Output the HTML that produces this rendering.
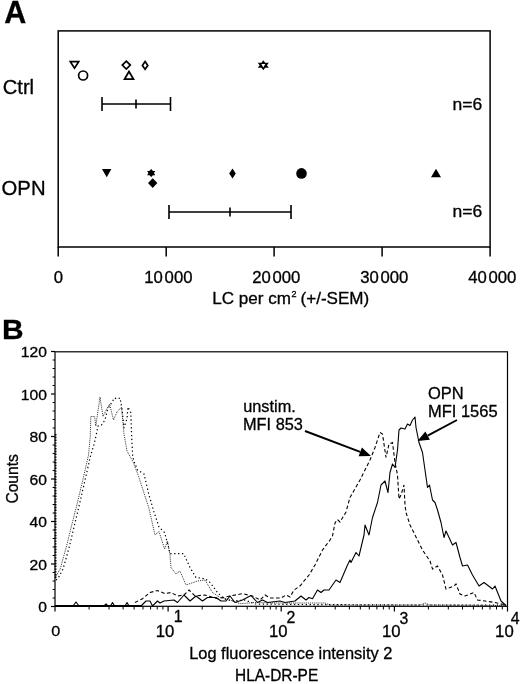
<!DOCTYPE html>
<html><head><meta charset="utf-8"><title>Figure</title>
<style>html,body{margin:0;padding:0;background:#fff}svg{display:block}text{font-family:"Liberation Sans",sans-serif;fill:#000;stroke:#000;stroke-width:0.3px}</style>
</head><body>
<svg width="520" height="684" viewBox="0 0 520 684">
<rect width="520" height="684" fill="#fff"/>
<text transform="translate(4.2 23) scale(1.0 1)" font-size="30.5" text-anchor="start" font-weight="bold">A</text>
<rect x="58.2" y="30.9" width="431.90000000000003" height="216.1" fill="none" stroke="#000" stroke-width="1.5"/>
<line x1="58.2" y1="247.0" x2="58.2" y2="256.4" stroke="#000" stroke-width="1.5"/>
<line x1="166.2" y1="247.0" x2="166.2" y2="256.4" stroke="#000" stroke-width="1.5"/>
<line x1="274.1" y1="247.0" x2="274.1" y2="256.4" stroke="#000" stroke-width="1.5"/>
<line x1="382.1" y1="247.0" x2="382.1" y2="256.4" stroke="#000" stroke-width="1.5"/>
<line x1="490.1" y1="247.0" x2="490.1" y2="256.4" stroke="#000" stroke-width="1.5"/>
<text transform="translate(58.5 282.8) scale(1.045 1)" font-size="16" text-anchor="middle" >0</text>
<text transform="translate(168.4 282.8) scale(1.045 1)" font-size="16" text-anchor="middle" >10<tspan dx="1.6">000</tspan></text>
<text transform="translate(276.3 282.8) scale(1.045 1)" font-size="16" text-anchor="middle" >20<tspan dx="1.6">000</tspan></text>
<text transform="translate(384.3 282.8) scale(1.045 1)" font-size="16" text-anchor="middle" >30<tspan dx="1.6">000</tspan></text>
<text transform="translate(492.3 282.8) scale(1.045 1)" font-size="16" text-anchor="middle" >40<tspan dx="1.6">000</tspan></text>
<text transform="translate(212.2 303.5) scale(1.067 1)" font-size="16" text-anchor="start" >LC per cm<tspan font-size="8.5" dy="-7" dx="0.5">2</tspan><tspan dy="7" dx="-0.6"> (+/-SEM)</tspan></text>
<text transform="translate(2.7 93.9) scale(1.01 1)" font-size="20" text-anchor="start" >Ctrl</text>
<text transform="translate(1.6 195.1) scale(0.975 1)" font-size="20.8" text-anchor="start" >OPN</text>
<text transform="translate(452.6 110.2) scale(1.06 1)" font-size="16.5" text-anchor="start" >n=6</text>
<text transform="translate(452.6 217) scale(1.06 1)" font-size="16.5" text-anchor="start" >n=6</text>
<path d="M102 104H170.5M102 97V111M170.5 97V111M136 99.5V108.5" stroke="#000" stroke-width="1.6" fill="none"/>
<path d="M169 212H291M169 205V219M291 205V219M230 207.5V216.5" stroke="#000" stroke-width="1.6" fill="none"/>
<path d="M70.3 61.7H78.7L74.5 68.2Z" stroke="#000" stroke-width="1.7" fill="#fff" stroke-linejoin="miter"/>
<circle cx="83.1" cy="75.5" r="4.5" stroke="#000" stroke-width="1.7" fill="#fff" stroke-linejoin="miter"/>
<path d="M126.3 61.1L130.3 65.1L126.3 69.1L122.3 65.1Z" stroke="#000" stroke-width="1.7" fill="#fff" stroke-linejoin="miter"/>
<path d="M129 71.5L133.5 79.2H124.5Z" stroke="#000" stroke-width="1.7" fill="#fff" stroke-linejoin="miter"/>
<path d="M145.1 61.5L147.8 65.4L145.1 69.3L142.4 65.4Z" stroke="#000" stroke-width="1.7" fill="#fff" stroke-linejoin="miter"/>
<path d="M263.3 60.2L268.8 67.7H257.8Z M263.3 70.2L257.8 62.7H268.8Z" fill="#000"/>
<path d="M261.3 63.9H265.3L263.3 67.5Z" fill="#fff"/>
<path d="M102 169H111.4L106.7 177.2Z" fill="#000"/>
<path d="M151.2 168.8L155.3 175.2H147.1Z M151.2 177.3L147.1 170.9H155.3Z" fill="#000"/>
<circle cx="151.2" cy="173.05" r="2.7" fill="#000"/>
<path d="M152.7 178.2L157.4 183.1L152.7 188L148 183.1Z" fill="#000"/>
<path d="M232.5 168.6L235.8 173.5L232.5 178.4L229.2 173.5Z" fill="#000"/>
<circle cx="301.5" cy="173.4" r="5.3" fill="#000"/>
<path d="M436 168.7L441 177.3H431Z" fill="#000"/>
<text transform="translate(2.0 338.5) scale(1.05 1)" font-size="28.5" text-anchor="start" font-weight="bold">B</text>
<rect x="55.0" y="351.8" width="452.5" height="254.49999999999994" fill="none" stroke="#000" stroke-width="1.2"/>
<line x1="51" y1="606.5" x2="55.0" y2="606.5" stroke="#000" stroke-width="1.2"/>
<text transform="translate(47.0 612.4) scale(1.045 1)" font-size="15" text-anchor="end" >0</text>
<line x1="52.6" y1="598.0" x2="55.0" y2="598.0" stroke="#000" stroke-width="1"/>
<line x1="52.6" y1="589.5" x2="55.0" y2="589.5" stroke="#000" stroke-width="1"/>
<line x1="52.6" y1="581.0" x2="55.0" y2="581.0" stroke="#000" stroke-width="1"/>
<line x1="52.6" y1="572.5" x2="55.0" y2="572.5" stroke="#000" stroke-width="1"/>
<line x1="51" y1="564.0" x2="55.0" y2="564.0" stroke="#000" stroke-width="1.2"/>
<text transform="translate(47.0 569.9) scale(1.045 1)" font-size="15" text-anchor="end" >20</text>
<line x1="52.6" y1="555.5" x2="55.0" y2="555.5" stroke="#000" stroke-width="1"/>
<line x1="52.6" y1="547.0" x2="55.0" y2="547.0" stroke="#000" stroke-width="1"/>
<line x1="52.6" y1="538.5" x2="55.0" y2="538.5" stroke="#000" stroke-width="1"/>
<line x1="52.6" y1="530.0" x2="55.0" y2="530.0" stroke="#000" stroke-width="1"/>
<line x1="51" y1="521.5" x2="55.0" y2="521.5" stroke="#000" stroke-width="1.2"/>
<text transform="translate(47.0 527.4) scale(1.045 1)" font-size="15" text-anchor="end" >40</text>
<line x1="52.6" y1="513.0" x2="55.0" y2="513.0" stroke="#000" stroke-width="1"/>
<line x1="52.6" y1="504.5" x2="55.0" y2="504.5" stroke="#000" stroke-width="1"/>
<line x1="52.6" y1="496.0" x2="55.0" y2="496.0" stroke="#000" stroke-width="1"/>
<line x1="52.6" y1="487.5" x2="55.0" y2="487.5" stroke="#000" stroke-width="1"/>
<line x1="51" y1="479.0" x2="55.0" y2="479.0" stroke="#000" stroke-width="1.2"/>
<text transform="translate(47.0 484.9) scale(1.045 1)" font-size="15" text-anchor="end" >60</text>
<line x1="52.6" y1="470.5" x2="55.0" y2="470.5" stroke="#000" stroke-width="1"/>
<line x1="52.6" y1="462.0" x2="55.0" y2="462.0" stroke="#000" stroke-width="1"/>
<line x1="52.6" y1="453.5" x2="55.0" y2="453.5" stroke="#000" stroke-width="1"/>
<line x1="52.6" y1="445.0" x2="55.0" y2="445.0" stroke="#000" stroke-width="1"/>
<line x1="51" y1="436.5" x2="55.0" y2="436.5" stroke="#000" stroke-width="1.2"/>
<text transform="translate(47.0 442.4) scale(1.045 1)" font-size="15" text-anchor="end" >80</text>
<line x1="52.6" y1="428.0" x2="55.0" y2="428.0" stroke="#000" stroke-width="1"/>
<line x1="52.6" y1="419.5" x2="55.0" y2="419.5" stroke="#000" stroke-width="1"/>
<line x1="52.6" y1="411.0" x2="55.0" y2="411.0" stroke="#000" stroke-width="1"/>
<line x1="52.6" y1="402.5" x2="55.0" y2="402.5" stroke="#000" stroke-width="1"/>
<line x1="51" y1="394.0" x2="55.0" y2="394.0" stroke="#000" stroke-width="1.2"/>
<text transform="translate(47.0 399.9) scale(1.045 1)" font-size="15" text-anchor="end" >100</text>
<line x1="52.6" y1="385.5" x2="55.0" y2="385.5" stroke="#000" stroke-width="1"/>
<line x1="52.6" y1="377.0" x2="55.0" y2="377.0" stroke="#000" stroke-width="1"/>
<line x1="52.6" y1="368.5" x2="55.0" y2="368.5" stroke="#000" stroke-width="1"/>
<line x1="52.6" y1="360.0" x2="55.0" y2="360.0" stroke="#000" stroke-width="1"/>
<line x1="51" y1="351.5" x2="55.0" y2="351.5" stroke="#000" stroke-width="1.2"/>
<text transform="translate(47.0 357.4) scale(1.045 1)" font-size="15" text-anchor="end" >120</text>
<line x1="55.0" y1="606.3" x2="55.0" y2="611.5" stroke="#000" stroke-width="1.2"/>
<line x1="89.1" y1="606.3" x2="89.1" y2="609.5" stroke="#000" stroke-width="1"/>
<line x1="109.0" y1="606.3" x2="109.0" y2="609.5" stroke="#000" stroke-width="1"/>
<line x1="123.1" y1="606.3" x2="123.1" y2="609.5" stroke="#000" stroke-width="1"/>
<line x1="134.1" y1="606.3" x2="134.1" y2="609.5" stroke="#000" stroke-width="1"/>
<line x1="143.0" y1="606.3" x2="143.0" y2="609.5" stroke="#000" stroke-width="1"/>
<line x1="150.6" y1="606.3" x2="150.6" y2="609.5" stroke="#000" stroke-width="1"/>
<line x1="157.2" y1="606.3" x2="157.2" y2="609.5" stroke="#000" stroke-width="1"/>
<line x1="162.9" y1="606.3" x2="162.9" y2="609.5" stroke="#000" stroke-width="1"/>
<line x1="168.1" y1="606.3" x2="168.1" y2="611.5" stroke="#000" stroke-width="1.2"/>
<line x1="202.2" y1="606.3" x2="202.2" y2="609.5" stroke="#000" stroke-width="1"/>
<line x1="222.1" y1="606.3" x2="222.1" y2="609.5" stroke="#000" stroke-width="1"/>
<line x1="236.2" y1="606.3" x2="236.2" y2="609.5" stroke="#000" stroke-width="1"/>
<line x1="247.2" y1="606.3" x2="247.2" y2="609.5" stroke="#000" stroke-width="1"/>
<line x1="256.2" y1="606.3" x2="256.2" y2="609.5" stroke="#000" stroke-width="1"/>
<line x1="263.7" y1="606.3" x2="263.7" y2="609.5" stroke="#000" stroke-width="1"/>
<line x1="270.3" y1="606.3" x2="270.3" y2="609.5" stroke="#000" stroke-width="1"/>
<line x1="276.1" y1="606.3" x2="276.1" y2="609.5" stroke="#000" stroke-width="1"/>
<line x1="281.2" y1="606.3" x2="281.2" y2="611.5" stroke="#000" stroke-width="1.2"/>
<line x1="315.3" y1="606.3" x2="315.3" y2="609.5" stroke="#000" stroke-width="1"/>
<line x1="335.2" y1="606.3" x2="335.2" y2="609.5" stroke="#000" stroke-width="1"/>
<line x1="349.4" y1="606.3" x2="349.4" y2="609.5" stroke="#000" stroke-width="1"/>
<line x1="360.3" y1="606.3" x2="360.3" y2="609.5" stroke="#000" stroke-width="1"/>
<line x1="369.3" y1="606.3" x2="369.3" y2="609.5" stroke="#000" stroke-width="1"/>
<line x1="376.9" y1="606.3" x2="376.9" y2="609.5" stroke="#000" stroke-width="1"/>
<line x1="383.4" y1="606.3" x2="383.4" y2="609.5" stroke="#000" stroke-width="1"/>
<line x1="389.2" y1="606.3" x2="389.2" y2="609.5" stroke="#000" stroke-width="1"/>
<line x1="394.4" y1="606.3" x2="394.4" y2="611.5" stroke="#000" stroke-width="1.2"/>
<line x1="428.4" y1="606.3" x2="428.4" y2="609.5" stroke="#000" stroke-width="1"/>
<line x1="448.3" y1="606.3" x2="448.3" y2="609.5" stroke="#000" stroke-width="1"/>
<line x1="462.5" y1="606.3" x2="462.5" y2="609.5" stroke="#000" stroke-width="1"/>
<line x1="473.4" y1="606.3" x2="473.4" y2="609.5" stroke="#000" stroke-width="1"/>
<line x1="482.4" y1="606.3" x2="482.4" y2="609.5" stroke="#000" stroke-width="1"/>
<line x1="490.0" y1="606.3" x2="490.0" y2="609.5" stroke="#000" stroke-width="1"/>
<line x1="496.5" y1="606.3" x2="496.5" y2="609.5" stroke="#000" stroke-width="1"/>
<line x1="502.3" y1="606.3" x2="502.3" y2="609.5" stroke="#000" stroke-width="1"/>
<line x1="507.5" y1="606.3" x2="507.5" y2="611.5" stroke="#000" stroke-width="1.2"/>
<text transform="translate(55.8 636.3) scale(1.045 1)" font-size="15.5" text-anchor="middle" >0</text>
<text transform="translate(155.7 636.6) scale(1.045 1)" font-size="16" text-anchor="start" >10</text>
<text transform="translate(173.7 621.6) scale(1.0 1)" font-size="15.8" text-anchor="start" >1</text>
<text transform="translate(268.9 636.6) scale(1.045 1)" font-size="16" text-anchor="start" >10</text>
<text transform="translate(286.4 622.8) scale(1.0 1)" font-size="15.8" text-anchor="start" >2</text>
<text transform="translate(382.0 636.6) scale(1.045 1)" font-size="16" text-anchor="start" >10</text>
<text transform="translate(399.6 623.6) scale(1.0 1)" font-size="15.8" text-anchor="start" >3</text>
<text transform="translate(495.1 636.6) scale(1.045 1)" font-size="16" text-anchor="start" >10</text>
<text transform="translate(510.8 623.7) scale(1.0 1)" font-size="15.8" text-anchor="start" >4</text>
<text transform="translate(189.2 658.9) scale(1.025 1)" font-size="16" text-anchor="start" >Log fluorescence intensity 2</text>
<text transform="translate(235.0 680.6) scale(0.965 1)" font-size="16" text-anchor="start" >HLA-DR-PE</text>
<text transform="translate(17.6,503.6) rotate(-90) scale(0.975 1)" font-size="16">Counts</text>
<text transform="translate(243.2 411.5) scale(0.99 1)" font-size="16.5" text-anchor="start" >unstim.</text>
<text transform="translate(243.0 430.3) scale(0.99 1)" font-size="16.5" text-anchor="start" >MFI 853</text>
<text transform="translate(428 398.8) scale(1.03 1)" font-size="16" text-anchor="start" >OPN</text>
<text transform="translate(428 416.8) scale(1.03 1)" font-size="16" text-anchor="start" >MFI 1565</text>
<line x1="305" y1="431" x2="360.2" y2="451.9" stroke="#000" stroke-width="1.9"/>
<path d="M371 456L358.6 456.3L361.9 447.5Z" fill="#000"/>
<line x1="457" y1="420" x2="427.7" y2="435.6" stroke="#000" stroke-width="1.9"/>
<path d="M417.5 441L425.4 431.5L429.9 439.8Z" fill="#000"/>
<path d="M55.5 577.0L60.4 568.5L63.5 557.0L66.7 545.5L72.0 524.0L77.8 501.0L83.5 477.0L88.5 455.0L90.3 436.0L90.8 416.5L94.6 416.5L95.8 426.0L100.0 397.0L103.0 416.5L106.7 409.0L109.6 404.0L113.5 420.0L117.0 412.0L121.5 407.0L124.0 434.0L127.0 451.0L132.7 461.0L138.5 476.0L149.0 508.5L155.0 535.0L159.0 531.5L164.6 549.0L167.5 541.0L170.0 555.0L171.0 567.5L176.0 574.0L180.0 571.0L186.0 585.0L197.5 581.0L205.0 580.0L212.5 592.5L220.0 597.5L230.0 600.0L240.0 603.7L255.0 602.5L280.0 603.0L325.0 603.0L330.0 605.0L420.0 605.0L425.0 603.0L430.0 605.0L506.0 605.5" fill="none" stroke="#000" stroke-width="1" stroke-dasharray="0.9 1" stroke-opacity="0.85"/>
<path d="M56.0 580.0L58.0 578.5L63.0 569.0L66.5 557.0L69.5 546.0L74.5 525.0L80.0 502.0L85.5 478.0L90.5 456.0L94.0 444.4L96.0 436.0L98.0 426.0L101.5 425.0L105.0 420.0L107.7 409.0L111.5 403.0L114.4 398.0L117.3 399.0L120.0 398.0L122.0 409.0L124.0 428.0L127.0 418.5L128.0 407.0L130.8 412.7L131.7 437.7L132.7 457.0L134.6 462.7L137.5 470.0L144.0 474.0L149.0 495.0L154.0 512.0L159.0 527.0L164.6 532.5L168.5 547.0L170.0 553.7L183.7 553.7L190.0 567.5L196.0 577.5L205.0 578.7L210.0 582.5L217.5 592.5L224.0 598.7L232.0 601.0L245.0 600.0L255.0 604.0L300.0 604.5L400.0 605.0L506.0 605.0" fill="none" stroke="#000" stroke-width="1.2" stroke-dasharray="1.3 2.6"/>
<path d="M135.0 602.5L142.5 598.7L150.0 592.5L157.5 590.5L165.0 593.7L171.0 592.5L177.5 596.0L184.0 595.0L189.0 590.0L195.0 596.0L205.0 595.0L217.5 598.7L230.0 596.0L242.5 593.7L252.5 596.0L260.0 600.0L265.0 595.0L270.0 598.0L281.0 598.0L286.0 595.0L290.0 597.0L294.0 590.0L300.0 586.0L304.0 581.0L309.0 575.0L315.0 565.0L322.5 550.0L330.0 540.0L332.5 536.0L335.0 523.0L337.5 519.5L340.0 522.0L346.0 512.0L350.0 497.5L360.0 480.0L370.0 460.0L375.0 447.5L380.0 432.5L382.5 434.0L386.0 457.5L389.0 444.0L392.5 442.5L395.0 462.5L397.5 475.0L399.0 499.0L401.0 495.0L404.0 485.0L405.0 505.0L406.0 512.5L410.0 525.0L415.0 535.0L422.5 550.0L430.0 561.0L432.5 569.0L437.5 566.0L442.5 575.0L446.0 589.0L454.0 586.0L456.0 584.0L460.0 594.0L465.0 596.0L474.0 592.5L477.5 600.0L485.0 601.0L495.0 602.5L506.0 605.0" fill="none" stroke="#000" stroke-width="1.1" stroke-dasharray="3.6 2.4"/>
<path d="M56.0 606.0L73.0 606.0L76.0 602.0L79.0 606.0L104.0 606.0L106.0 604.0L108.0 606.0L110.5 606.0L112.5 602.5L114.5 606.0L125.0 606.0L127.0 602.5L129.0 606.0L141.0 606.0L146.0 601.0L150.0 601.0L152.5 606.0L157.5 601.0L160.0 603.0L164.0 601.0L174.0 600.0L177.5 602.5L184.0 595.0L190.0 601.0L196.0 596.0L202.5 601.0L207.5 597.5L216.0 597.5L221.0 601.0L226.0 601.0L230.0 596.0L235.0 602.5L242.5 600.0L251.0 595.5L257.5 602.5L262.5 600.0L267.5 602.5L280.0 601.0L285.0 602.5L295.0 601.0L301.0 596.0L306.0 600.0L309.0 597.5L312.5 598.7L317.5 590.0L321.0 592.5L324.0 590.0L329.0 590.0L336.0 580.0L340.0 582.5L347.5 565.0L350.0 560.0L351.0 562.5L356.0 552.5L359.0 556.0L364.0 535.0L365.0 525.0L369.0 535.0L372.5 517.5L377.5 502.5L381.0 485.0L385.0 481.0L388.0 492.5L390.0 472.5L392.5 464.0L395.0 467.5L397.5 450.0L399.0 430.0L401.0 428.0L405.0 429.0L407.5 424.0L410.0 425.5L412.5 420.0L415.0 417.0L416.0 427.5L419.0 442.5L422.5 452.5L425.0 470.0L427.5 487.5L429.5 485.0L432.5 500.0L435.0 502.5L437.5 510.0L441.0 522.5L444.0 537.5L446.0 531.0L452.5 545.0L456.0 542.5L460.0 557.5L462.5 566.0L467.5 565.0L472.5 575.0L479.0 586.0L484.0 582.5L492.5 589.0L495.0 586.0L501.0 601.0L506.0 605.5" fill="none" stroke="#000" stroke-width="1.1" stroke-linejoin="round"/>
<line x1="55.6" y1="434" x2="55.6" y2="578" stroke="#000" stroke-width="1.8" stroke-dasharray="1.4 1.4"/>
<line x1="55.0" y1="605.9" x2="142" y2="605.9" stroke="#000" stroke-width="2"/>
</svg>
</body></html>
